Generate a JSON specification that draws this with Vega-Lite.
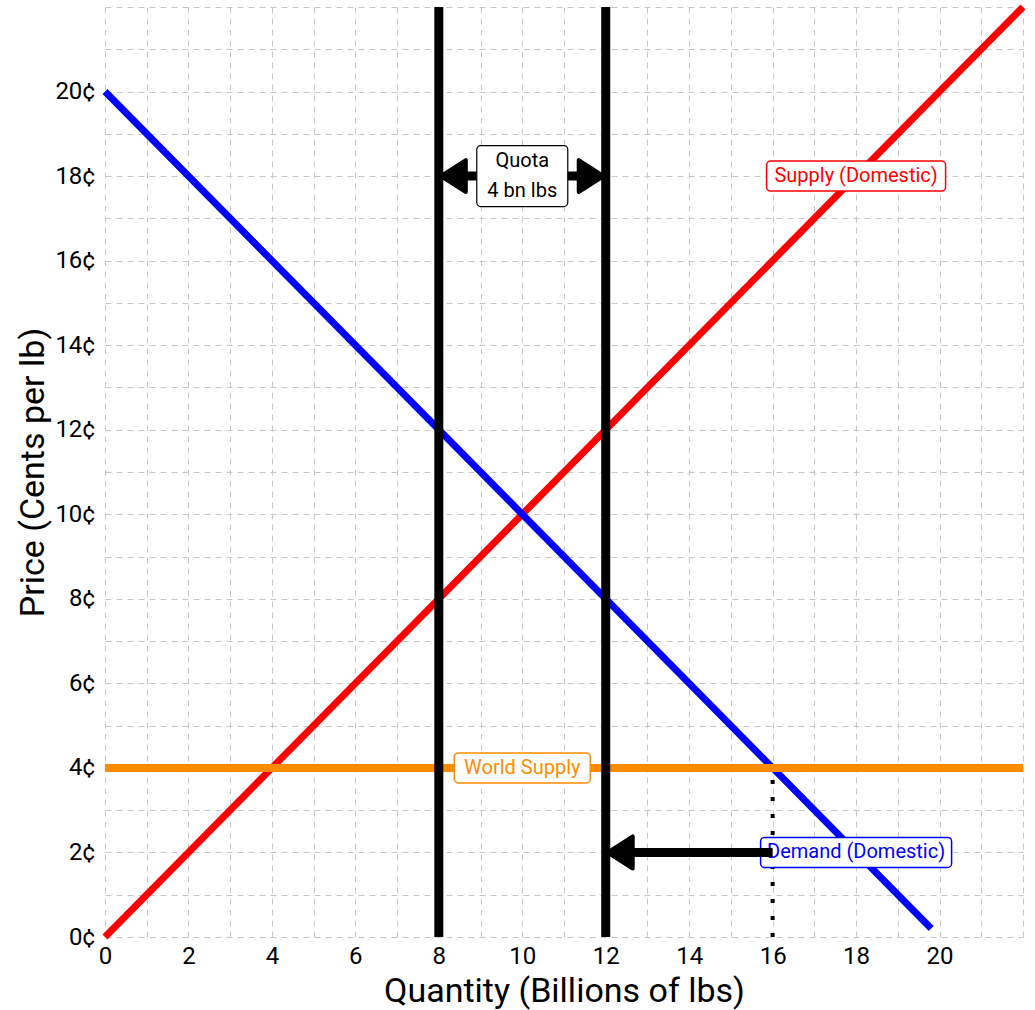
{
  "$schema": "https://vega.github.io/schema/vega-lite/v6.json",
  "width": 918,
  "height": 930,
  "autosize": {"type": "none"},
  "padding": {"left": 105, "top": 7, "right": 12, "bottom": 73},
  "background": "white",
  "config": {
    "view": {"stroke": null},
    "font": "Roboto",
    "axis": {
      "gridColor": "#c8c8c8",
      "gridDash": [6, 5],
      "gridWidth": 1,
      "ticks": false,
      "domain": false,
      "labelColor": "black",
      "titleColor": "black",
      "labelFontSize": 24,
      "titleFontSize": 34,
      "titleFontWeight": "normal",
      "labelOverlap": false,
      "labelFlush": false
    }
  },
  "datasets": {
    "supply": [{"q": 0, "p": 0}, {"q": 22, "p": 22}],
    "demand": [{"q": 0, "p": 20}, {"q": 19.8, "p": 0.2}],
    "world": [{"q": 0, "p": 4}, {"q": 22, "p": 4}],
    "quota": [{"q": 8}, {"q": 12}],
    "dotted": [{"q": 16, "p": 0, "p2": 4}],
    "shafts": [{"q": 16, "q2": 12.3, "p": 2}, {"q": 8.3, "q2": 11.7, "p": 18}],
    "headsLeft": [{"q": 12, "p": 2}, {"q": 8, "p": 18}],
    "headsRight": [{"q": 12, "p": 18}],
    "supplyLabel": [{"q": 18, "p": 18, "label": "Supply (Domestic)"}],
    "worldLabel": [{"q": 10, "p": 4, "label": "World Supply"}],
    "demandLabel": [{"q": 18, "p": 2, "label": "Demand (Domestic)"}],
    "quotaLabel": [{"q": 10, "p": 18, "label": ["Quota", "4 bn lbs"]}]
  },
  "layer": [
    {
      "data": {"name": "supply"},
      "mark": {"type": "line", "color": "#ff0000", "strokeWidth": 7},
      "encoding": {
        "x": {
          "field": "q", "type": "quantitative",
          "scale": {"domain": [0, 22], "nice": false, "zero": false},
          "axis": {
            "values": [0,1,2,3,4,5,6,7,8,9,10,11,12,13,14,15,16,17,18,19,20,21,22],
            "labelExpr": "(datum.value % 2 == 0 && datum.value <= 20) ? datum.label : ''",
            "labelPadding": 7,
            "title": "Quantity (Billions of lbs)",
            "titlePadding": 6
          }
        },
        "y": {
          "field": "p", "type": "quantitative",
          "scale": {"domain": [0, 22], "nice": false, "zero": false},
          "axis": {
            "values": [0,1,2,3,4,5,6,7,8,9,10,11,12,13,14,15,16,17,18,19,20,21,22],
            "labelExpr": "(datum.value % 2 == 0 && datum.value <= 20) ? datum.value + '¢' : ''",
            "labelPadding": 10,
            "title": "Price (Cents per lb)",
            "titlePadding": 4
          }
        }
      }
    },
    {
      "data": {"name": "demand"},
      "mark": {"type": "line", "color": "#0000ff", "strokeWidth": 7},
      "encoding": {
        "x": {"field": "q", "type": "quantitative"},
        "y": {"field": "p", "type": "quantitative"}
      }
    },
    {
      "data": {"name": "world"},
      "mark": {"type": "line", "color": "#ff8c00", "strokeWidth": 8},
      "encoding": {
        "x": {"field": "q", "type": "quantitative"},
        "y": {"field": "p", "type": "quantitative"}
      }
    },
    {
      "data": {"name": "quota"},
      "mark": {"type": "rule", "color": "black", "strokeWidth": 9},
      "encoding": {
        "x": {"field": "q", "type": "quantitative"}
      }
    },
    {
      "data": {"name": "dotted"},
      "mark": {"type": "rule", "color": "black", "strokeWidth": 4, "strokeDash": [4, 13]},
      "encoding": {
        "x": {"field": "q", "type": "quantitative"},
        "y": {"field": "p", "type": "quantitative"},
        "y2": {"field": "p2"}
      }
    },
    {
      "data": {"name": "supplyLabel"},
      "mark": {"type": "rect", "width": 179, "height": 30, "cornerRadius": 4, "fill": "white", "stroke": "#ff0000", "strokeWidth": 1.5},
      "encoding": {
        "x": {"field": "q", "type": "quantitative"},
        "y": {"field": "p", "type": "quantitative"}
      }
    },
    {
      "data": {"name": "supplyLabel"},
      "mark": {"type": "text", "color": "#ff0000", "fontSize": 20, "baseline": "middle", "align": "center"},
      "encoding": {
        "x": {"field": "q", "type": "quantitative"},
        "y": {"field": "p", "type": "quantitative"},
        "text": {"field": "label"}
      }
    },
    {
      "data": {"name": "worldLabel"},
      "mark": {"type": "rect", "width": 136, "height": 30, "cornerRadius": 4, "fill": "white", "stroke": "#ff8c00", "strokeWidth": 1.5},
      "encoding": {
        "x": {"field": "q", "type": "quantitative"},
        "y": {"field": "p", "type": "quantitative"}
      }
    },
    {
      "data": {"name": "worldLabel"},
      "mark": {"type": "text", "color": "#ff8c00", "fontSize": 20, "baseline": "middle", "align": "center"},
      "encoding": {
        "x": {"field": "q", "type": "quantitative"},
        "y": {"field": "p", "type": "quantitative"},
        "text": {"field": "label"}
      }
    },
    {
      "data": {"name": "demandLabel"},
      "mark": {"type": "rect", "width": 191, "height": 30, "cornerRadius": 4, "fill": "white", "stroke": "#0000ff", "strokeWidth": 1.5},
      "encoding": {
        "x": {"field": "q", "type": "quantitative"},
        "y": {"field": "p", "type": "quantitative"}
      }
    },
    {
      "data": {"name": "demandLabel"},
      "mark": {"type": "text", "color": "#0000ff", "fontSize": 20, "baseline": "middle", "align": "center"},
      "encoding": {
        "x": {"field": "q", "type": "quantitative"},
        "y": {"field": "p", "type": "quantitative"},
        "text": {"field": "label"}
      }
    },
    {
      "data": {"name": "shafts"},
      "mark": {"type": "rule", "color": "black", "strokeWidth": 9},
      "encoding": {
        "x": {"field": "q", "type": "quantitative"},
        "x2": {"field": "q2"},
        "y": {"field": "p", "type": "quantitative"}
      }
    },
    {
      "data": {"name": "headsLeft"},
      "mark": {"type": "point", "shape": "M0.2,0 L2.7,-1.6 L2.7,1.6 Z", "size": 400, "filled": true, "fill": "black", "stroke": "black", "strokeWidth": 4, "strokeJoin": "round", "opacity": 1},
      "encoding": {
        "x": {"field": "q", "type": "quantitative"},
        "y": {"field": "p", "type": "quantitative"}
      }
    },
    {
      "data": {"name": "headsRight"},
      "mark": {"type": "point", "shape": "M-0.2,0 L-2.7,-1.6 L-2.7,1.6 Z", "size": 400, "filled": true, "fill": "black", "stroke": "black", "strokeWidth": 4, "strokeJoin": "round", "opacity": 1},
      "encoding": {
        "x": {"field": "q", "type": "quantitative"},
        "y": {"field": "p", "type": "quantitative"}
      }
    },
    {
      "data": {"name": "quotaLabel"},
      "mark": {"type": "rect", "width": 91, "height": 61, "cornerRadius": 4, "fill": "white", "stroke": "black", "strokeWidth": 1.2},
      "encoding": {
        "x": {"field": "q", "type": "quantitative"},
        "y": {"field": "p", "type": "quantitative"}
      }
    },
    {
      "data": {"name": "quotaLabel"},
      "mark": {"type": "text", "color": "black", "fontSize": 20, "baseline": "middle", "align": "center", "lineHeight": 30, "dy": -15},
      "encoding": {
        "x": {"field": "q", "type": "quantitative"},
        "y": {"field": "p", "type": "quantitative"},
        "text": {"field": "label"}
      }
    }
  ]
}
